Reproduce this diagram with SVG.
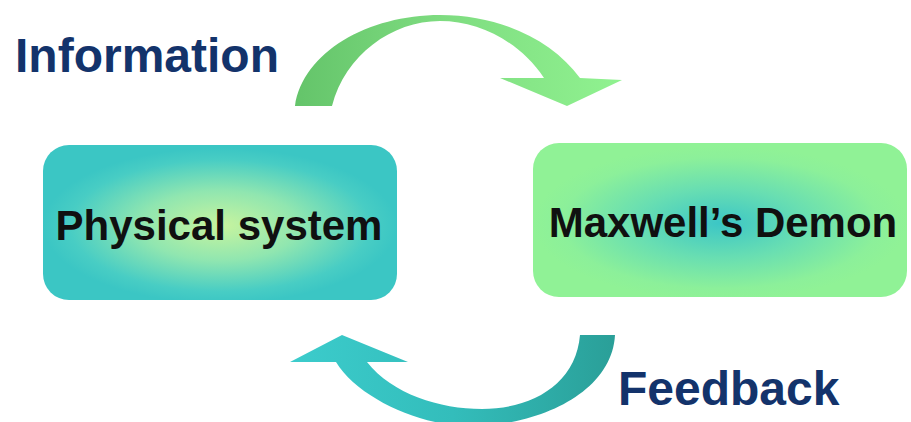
<svg xmlns="http://www.w3.org/2000/svg" width="911" height="422" viewBox="0 0 911 422">
  <style>
    .label { font-family: "Liberation Sans", Arial, sans-serif; font-weight: bold; font-size: 42px; fill: #101010; }
    .caption { font-family: "Liberation Sans", Arial, sans-serif; font-weight: bold; font-size: 48px; fill: #13336b; }
  </style>
  <defs>
    <radialGradient id="gradPhysical" cx="0.5" cy="0.52" r="0.5">
      <stop offset="0" stop-color="#c8f49e"/>
      <stop offset="0.45" stop-color="#90e6b0"/>
      <stop offset="0.85" stop-color="#48cdc4"/>
      <stop offset="1" stop-color="#3bc6c4"/>
    </radialGradient>
    <radialGradient id="gradDemon" cx="0.5" cy="0.52" r="0.5">
      <stop offset="0" stop-color="#3cc6c6"/>
      <stop offset="0.45" stop-color="#68deb2"/>
      <stop offset="0.85" stop-color="#8cf09a"/>
      <stop offset="1" stop-color="#90f296"/>
    </radialGradient>
    <linearGradient id="gradInfo" gradientUnits="userSpaceOnUse" x1="295" y1="0" x2="622" y2="0">
      <stop offset="0" stop-color="#64c46a"/>
      <stop offset="0.45" stop-color="#7edc80"/>
      <stop offset="1" stop-color="#90f290"/>
    </linearGradient>
    <linearGradient id="gradFeedback" gradientUnits="userSpaceOnUse" x1="290" y1="0" x2="615" y2="0">
      <stop offset="0" stop-color="#3ccccc"/>
      <stop offset="0.5" stop-color="#33bdbb"/>
      <stop offset="1" stop-color="#2a9f98"/>
    </linearGradient>
  </defs>

  <rect width="911" height="422" fill="#ffffff"/>

  <!-- curved arrows between the two boxes -->
  <g id="connectors">
    <path id="arrow-information" fill="url(#gradInfo)"
          d="M 295,106 C 303,52 368,15 440,15 C 500,15 552,40 580,78 L 622,80 L 567,106 L 500,78 L 544,78 C 520,42 480,21 440,21 C 392,21 345,55 332,106 Z"/>
    <path id="arrow-feedback" fill="url(#gradFeedback)"
          d="M 615,335 C 612,392 540,426 470,426 C 420,426 358,398 336,362 L 290,362 L 342,335 L 408,362 L 367,362 C 392,394 440,409 482,409 C 532,409 576,384 580,335 Z"/>
  </g>

  <g id="physical-system">
    <rect x="43" y="145" width="354" height="155" rx="26" fill="url(#gradPhysical)"/>
    <text class="label" x="219" y="240" text-anchor="middle">Physical system</text>
  </g>

  <g id="maxwells-demon">
    <rect x="533" y="143" width="374" height="154" rx="26" fill="url(#gradDemon)"/>
    <text class="label" x="723" y="237" text-anchor="middle">Maxwell’s Demon</text>
  </g>

  <g id="label-information">
    <text class="caption" x="15" y="72">Information</text>
  </g>

  <g id="label-feedback">
    <text class="caption" x="618" y="405">Feedback</text>
  </g>
</svg>
